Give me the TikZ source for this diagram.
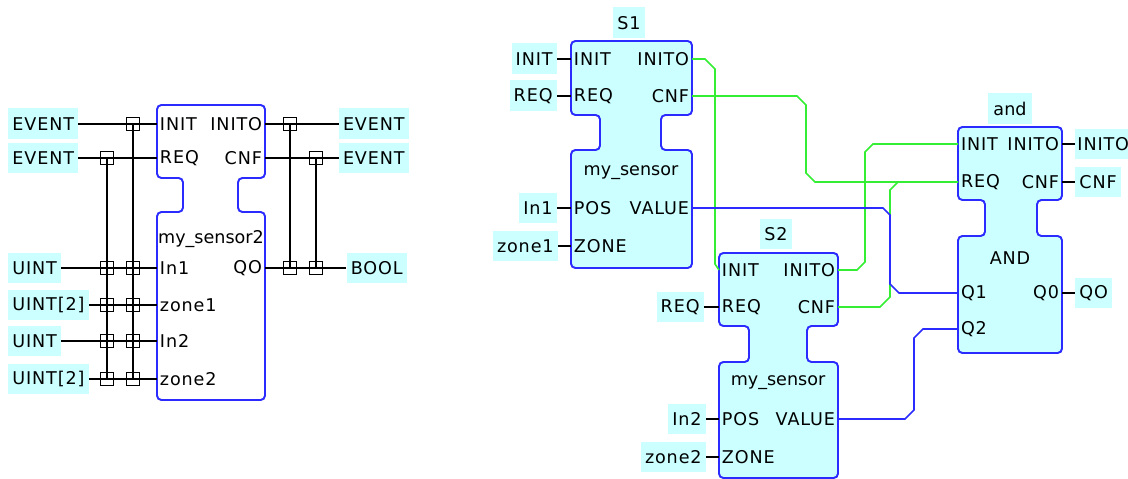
\documentclass[tikz,border=0pt]{standalone}
\usepackage{fontspec}
\setmainfont{DejaVu Sans}[LetterSpace=5]
\newfontfamily\typefont{DejaVu Sans}
\usetikzlibrary{positioning}
\definecolor{fbfill}{HTML}{CCFFFF}
\definecolor{fbline}{HTML}{2B2BFF}
\definecolor{evline}{HTML}{33EE33}

% outline of a function block: style, x1, x2, top, upper bottom, lower top, bottom, left notch, right notch
\newcommand{\fbbody}[9]{%
  \draw[#1] (#2,#4) -- (#3,#4) -- (#3,#5) -- (#9,#5) -- (#9,#6) -- (#3,#6)
    -- (#3,#7) -- (#2,#7) -- (#2,#6) -- (#8,#6) -- (#8,#5) -- (#2,#5) -- cycle;}

\tikzset{
  fbtext/.style={font=\fontsize{10}{12}\selectfont},
  typename/.style={font=\typefont\fontsize{10}{12}\selectfont},
  port/.style={fbtext, inner xsep=1.5pt, inner ysep=0pt},
  tlabel/.style={fbtext, fill=fbfill, inner xsep=2.3pt, inner ysep=0pt, minimum height=0.62cm},
  junc/.style={draw, line width=0.8pt, minimum size=0.25cm, inner sep=0pt},
  fbframe/.style={draw=fbline, line width=1.1pt, rounded corners=2.5pt},
  wire/.style={black, line width=0.8pt},
  evwire/.style={evline, line width=0.9pt},
  dwire/.style={fbline, line width=0.9pt}
}

\begin{document}
\begin{tikzpicture}[x=0.02cm, y=-0.02cm]
  \useasboundingbox (0,0) rectangle (1128,479);

  % ---------- my_sensor2 (type view) ----------
  \fbbody{fbframe, fill=white}{157}{265}{105}{178}{212}{400}{183}{238}
  \node[port, anchor=west] (l-init)  at (157,124) {INIT};
  \node[port, anchor=west] (l-req)   at (157,158) {REQ};
  \node[port, anchor=west] (l-in1)   at (157,268) {In1};
  \node[port, anchor=west] (l-zone1) at (157,305) {zone1};
  \node[port, anchor=west] (l-in2)   at (157,341) {In2};
  \node[port, anchor=west] (l-zone2) at (157,379) {zone2};
  \node[port, anchor=east] (l-inito) at (265,124) {INITO};
  \node[port, anchor=east] (l-cnf)   at (265,158) {CNF};
  \node[port, anchor=east] (l-qo)    at (265,268) {QO};
  \node[typename] (l-type) at (211,239) {my\_sensor2};

  % data types
  \node[tlabel, anchor=west] (ty-ev1) at (8,124) {EVENT};
  \node[tlabel, anchor=west] (ty-ev2) at (8,158) {EVENT};
  \node[tlabel, anchor=west] (ty-u1)  at (8,268) {UINT};
  \node[tlabel, anchor=west] (ty-z1)  at (8,305) {UINT[2]};
  \node[tlabel, anchor=west] (ty-u2)  at (8,341) {UINT};
  \node[tlabel, anchor=west] (ty-z2)  at (8,379) {UINT[2]};
  \node[tlabel, anchor=east] (ty-ev3) at (409,124) {EVENT};
  \node[tlabel, anchor=east] (ty-ev4) at (409,158) {EVENT};
  \node[tlabel, anchor=east] (ty-bo)  at (407,268) {BOOL};

  \draw[wire] (ty-ev1) -- (l-init.west);
  \draw[wire] (ty-ev2) -- (l-req.west);
  \draw[wire] (ty-u1) -- (l-in1.west);
  \draw[wire] (ty-z1) -- (l-zone1.west);
  \draw[wire] (ty-u2) -- (l-in2.west);
  \draw[wire] (ty-z2) -- (l-zone2.west);
  \draw[wire] (l-inito.east) -- (ty-ev3);
  \draw[wire] (l-cnf.east) -- (ty-ev4);
  \draw[wire] (l-qo.east) -- (ty-bo);

  % associations (WITH)
  \foreach \r [count=\i] in {124,268,305,341,379} \node[junc] (ja\i) at (133,\r) {};
  \foreach \r [count=\i] in {158,268,305,341,379} \node[junc] (jb\i) at (107,\r) {};
  \node[junc] (jc1) at (290,124) {};
  \node[junc] (jc2) at (290,268) {};
  \node[junc] (jd1) at (316,158) {};
  \node[junc] (jd2) at (316,268) {};
  \draw[wire] (ja1.center) -- (ja5.center);
  \draw[wire] (jb1.center) -- (jb5.center);
  \draw[wire] (jc1.center) -- (jc2.center);
  \draw[wire] (jd1.center) -- (jd2.center);

  % ---------- S1 ----------
  \fbbody{fbframe, fill=fbfill}{571}{692}{41}{115}{150}{268}{600}{661}
  \node[port, anchor=west] (s1-init)  at (571,59)  {INIT};
  \node[port, anchor=west] (s1-req)   at (571,96)  {REQ};
  \node[port, anchor=west] (s1-pos)   at (571,208) {POS};
  \node[port, anchor=west] (s1-zone)  at (571,246) {ZONE};
  \node[port, anchor=east] (s1-inito) at (692,59)  {INITO};
  \node[port, anchor=east] (s1-cnf)   at (692,96)  {CNF};
  \node[port, anchor=east] (s1-value) at (692,208) {VALUE};
  \node[typename] (s1-type) at (631,173) {my\_sensor};
  \node[tlabel] (s1-name) at (629,23) {S1};
  \node[tlabel, anchor=east] (i1-init) at (557,59)  {INIT};
  \node[tlabel, anchor=east] (i1-req)  at (557,96)  {REQ};
  \node[tlabel, anchor=east] (i1-in)   at (557,208) {In1};
  \node[tlabel, anchor=east] (i1-zone) at (558,246) {zone1};
  \draw[wire] (i1-init) -- (s1-init.west);
  \draw[wire] (i1-req) -- (s1-req.west);
  \draw[wire] (i1-in) -- (s1-pos.west);
  \draw[wire] (i1-zone) -- (s1-zone.west);

  % ---------- S2 ----------
  \fbbody{fbframe, fill=fbfill}{719}{838}{253}{326}{362}{478}{749}{807}
  \node[port, anchor=west] (s2-init)  at (719,270) {INIT};
  \node[port, anchor=west] (s2-req)   at (719,307) {REQ};
  \node[port, anchor=west] (s2-pos)   at (719,419) {POS};
  \node[port, anchor=west] (s2-zone)  at (719,457) {ZONE};
  \node[port, anchor=east] (s2-inito) at (838,270) {INITO};
  \node[port, anchor=east] (s2-cnf)   at (838,307) {CNF};
  \node[port, anchor=east] (s2-value) at (838,419) {VALUE};
  \node[typename] (s2-type) at (778,383) {my\_sensor};
  \node[tlabel] (s2-name) at (776,234) {S2};
  \node[tlabel, anchor=east] (i2-req)  at (704,307) {REQ};
  \node[tlabel, anchor=east] (i2-in)   at (706,419) {In2};
  \node[tlabel, anchor=east] (i2-zone) at (706,457) {zone2};
  \draw[wire] (i2-req) -- (s2-req.west);
  \draw[wire] (i2-in) -- (s2-pos.west);
  \draw[wire] (i2-zone) -- (s2-zone.west);

  % ---------- and ----------
  \fbbody{fbframe, fill=fbfill}{958}{1062}{127}{200}{236}{353}{985}{1037}
  \node[port, anchor=west] (a-init)  at (958,144) {INIT};
  \node[port, anchor=west] (a-req)   at (958,182) {REQ};
  \node[port, anchor=west] (a-q1)    at (958,293) {Q1};
  \node[port, anchor=west] (a-q2)    at (958,329) {Q2};
  \node[port, anchor=east] (a-inito) at (1062,144) {INITO};
  \node[port, anchor=east] (a-cnf)   at (1062,182) {CNF};
  \node[port, anchor=east] (a-q0)    at (1062,293) {Q0};
  \node[fbtext] (a-type) at (1010,258) {AND};
  \node[typename, fill=fbfill, minimum height=0.62cm, inner ysep=0pt] (a-name) at (1010,109) {and};
  \node[tlabel, anchor=west, inner xsep=1.2pt] (o-inito) at (1075,144) {INITO};
  \node[tlabel, anchor=west] (o-cnf)   at (1075,182) {CNF};
  \node[tlabel, anchor=west] (o-qo)    at (1075,293) {QO};
  \draw[wire] (a-inito.east) -- (o-inito);
  \draw[wire] (a-cnf.east) -- (o-cnf);
  \draw[wire] (a-q0.east) -- (o-qo);

  % event connections
  \draw[evwire] (s1-inito.east) -- (705,59) -- (715,69) -- (715,264) -- (s2-init.west);
  \draw[evwire] (s1-cnf.east) -- (797,96) -- (806,105) -- (806,173) -- (815,182) -- (a-req.west);
  \draw[evwire] (s2-inito.east) -- (857,270) -- (865,262) -- (865,152) -- (873,144) -- (a-init.west);
  \draw[evwire] (s2-cnf.east) -- (880,307) -- (890,297) -- (890,190) -- (898,182) -- (a-req.west);
  % data connections
  \draw[dwire] (s1-value.east) -- (883,208) -- (890,215) -- (890,284) -- (899,293) -- (a-q1.west);
  \draw[dwire] (s2-value.east) -- (905,419) -- (914,410) -- (914,338) -- (923,329) -- (a-q2.west);
\end{tikzpicture}
\end{document}
